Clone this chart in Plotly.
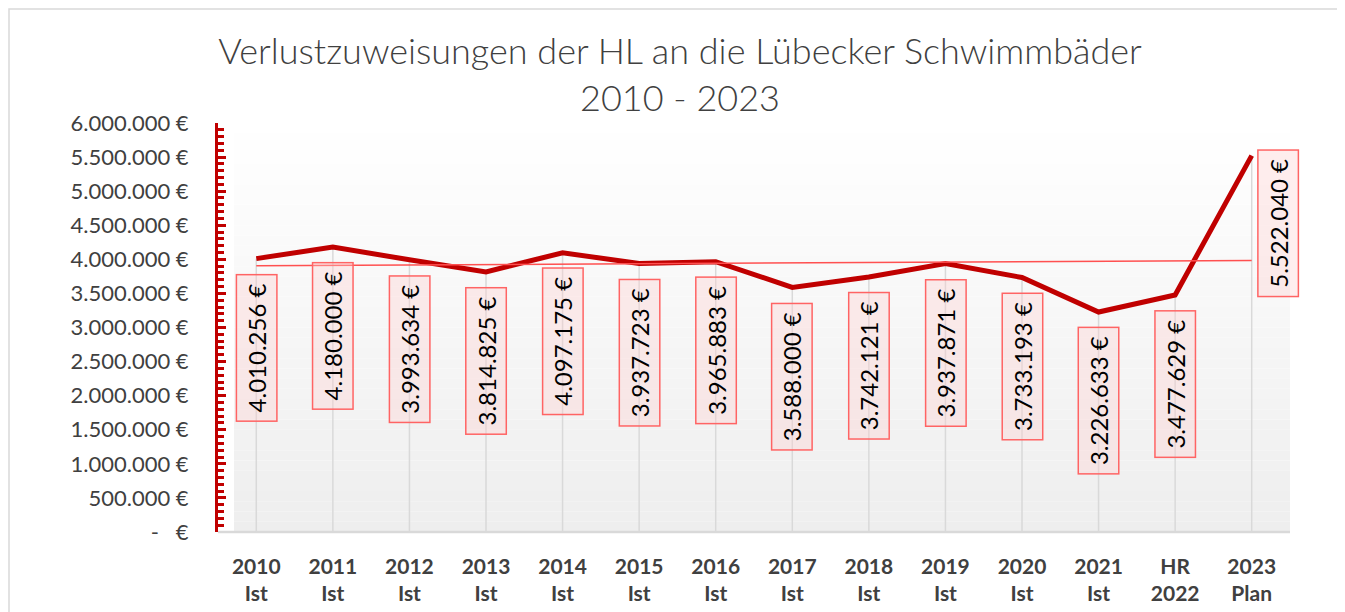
import numpy as np
import plotly.graph_objects as go

categories = ["2010<br>Ist", "2011<br>Ist", "2012<br>Ist", "2013<br>Ist", "2014<br>Ist",
              "2015<br>Ist", "2016<br>Ist", "2017<br>Ist", "2018<br>Ist", "2019<br>Ist",
              "2020<br>Ist", "2021<br>Ist", "HR<br>2022", "2023<br>Plan"]
values = [4010256, 4180000, 3993634, 3814825, 4097175, 3937723, 3965883,
          3588000, 3742121, 3937871, 3733193, 3226633, 3477629, 5522040]
y_tick_values = [0, 500000, 1000000, 1500000, 2000000, 2500000, 3000000,
                 3500000, 4000000, 4500000, 5000000, 5500000, 6000000]
title_text = "Verlustzuweisungen der HL an die Lübecker Schwimmbäder<br>2010 - 2023"


def eur(v):
    if v == 0:
        return "-   €"
    return f"{v:,}".replace(",", ".") + " €"


OFF = 8  # page body margin
W, H = 1345 - OFF, 612 - OFF
L, T = 218 - OFF, 123 - OFF
R = W - (1290 - OFF)
B = H - (532 - OFF)
pw, ph = W - L - R, H - T - B

idx = list(range(len(categories)))
slope, intercept = np.polyfit(idx, values, 1)
trend = [intercept + slope * i for i in idx]

fig = go.Figure()

# drop lines
fig.add_trace(go.Scatter(
    x=idx, y=values, mode="markers", marker=dict(size=0.1, color="rgba(0,0,0,0)"),
    error_y=dict(type="data", symmetric=False, array=[0] * len(values), arrayminus=values,
                 color="#D9D9D9", thickness=1.5, width=0),
    hoverinfo="skip", showlegend=False))

# main line
fig.add_trace(go.Scatter(x=idx, y=values, mode="lines",
                         line=dict(color="#C00000", width=5), showlegend=False))

# trend line
fig.add_trace(go.Scatter(x=idx, y=trend, mode="lines",
                         line=dict(color="#FF5050", width=1.5), showlegend=False))

# data labels
annotations = []
for i, v in zip(idx, values):
    common = dict(x=i, y=v, xref="x", yref="y", text="\u2009" + eur(v) + "\u2009",
                  textangle=-90, showarrow=False,
                  font=dict(family="Lato", size=24, color="#000000"),
                  bgcolor="rgba(255,205,205,0.35)", bordercolor="#FF6464",
                  borderwidth=1.5, borderpad=5)
    if i == len(idx) - 1:
        annotations.append(dict(**common, xanchor="left", yanchor="top", xshift=5, yshift=6))
    else:
        annotations.append(dict(**common, xanchor="center", yanchor="top", yshift=-15))

shapes = []
# gradient plot background
n = 40
bx0 = 16 / pw
for k in range(n):
    f0 = k / n
    f1 = (k + 1) / n
    t = 1 - (f0 + f1) / 2  # 0 at top, 1 at bottom
    c = int(round(255 - t * 17))
    shapes.append(dict(type="rect", xref="x domain", yref="y domain", x0=bx0, x1=1,
                       y0=f0, y1=f1, fillcolor=f"rgb({c},{c},{c})", line=dict(width=0),
                       layer="below"))
# floor line
shapes.append(dict(type="line", xref="x domain", yref="y domain", x0=0, x1=1, y0=0, y1=0,
                   line=dict(color="#D9D9D9", width=2.5), layer="below"))
# outer border (screen pixel 9,9)
shapes.append(dict(type="rect", xref="paper", yref="paper",
                   x0=(9 - OFF - L) / pw, x1=(W + 20 - L) / pw,
                   y0=-(B + 20) / ph, y1=(H - B - (9 - OFF)) / ph,
                   line=dict(color="#D9D9D9", width=1.5), fillcolor="rgba(0,0,0,0)",
                   layer="below"))

fig.update_layout(
    width=W, height=H,
    margin=dict(l=L, r=R, t=T, b=B, autoexpand=False),
    paper_bgcolor="white", plot_bgcolor="rgba(0,0,0,0)",
    title=dict(text=title_text, x=(680 - OFF - L) / pw, xref="paper", xanchor="center",
               y=1 - 56 / H, yanchor="top",
               font=dict(family="Lato", size=36, color="#404040", weight=300)),
    xaxis=dict(range=[-0.5, 13.5], tickmode="array", tickvals=idx, ticktext=categories,
               showgrid=False, zeroline=False, showline=False, ticks="",
               tickfont=dict(family="Lato", size=21, color="#404040", weight="bold"),
               ticklabelstandoff=20, automargin=False),
    yaxis=dict(range=[0, 6000000], tickmode="array", tickvals=y_tick_values,
               ticktext=[eur(v) for v in y_tick_values],
               showgrid=False, zeroline=False, showline=True, linecolor="#C00000",
               linewidth=3, ticks="inside", ticklen=8, tickwidth=3, tickcolor="#C00000",
               minor=dict(dtick=100000, ticks="inside", ticklen=6, tickwidth=3,
                          tickcolor="#C00000", showgrid=False),
               tickfont=dict(family="Lato", size=22, color="#404040"),
               ticklabelstandoff=22, automargin=False),
    shapes=shapes,
    annotations=annotations,
    showlegend=False,
)

fig.write_html("out.html")
